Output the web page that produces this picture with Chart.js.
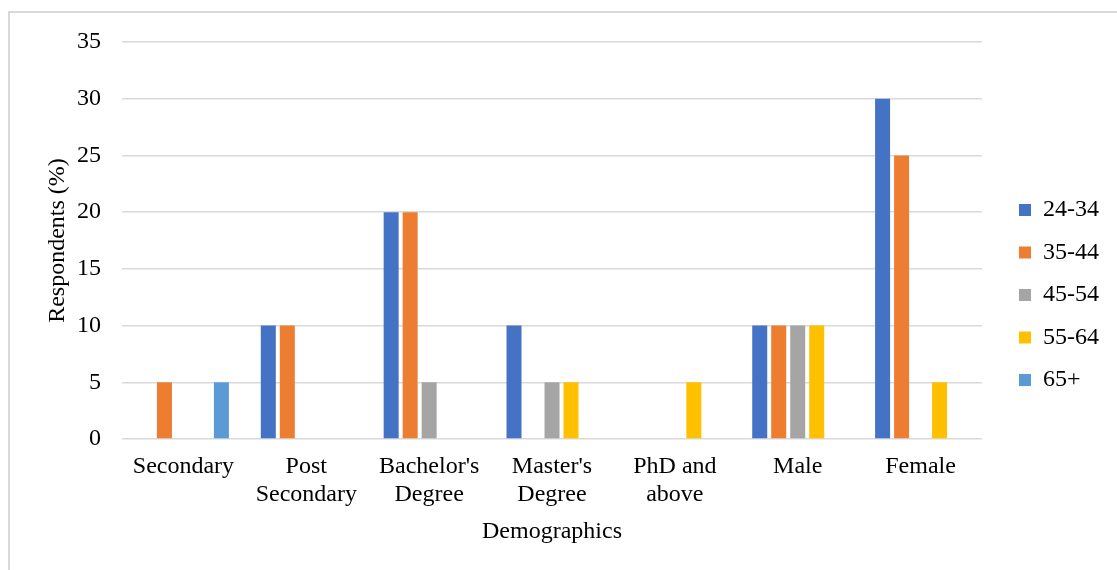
<!DOCTYPE html>
<html>
<head>
<meta charset="utf-8">
<script src="https://cdn.jsdelivr.net/npm/chart.js@4/dist/chart.umd.min.js"></script>
<style>
  html, body { margin: 0; padding: 0; background: #fff; overflow: hidden; }
  #frame {
    position: absolute; left: 8px; top: 11px;
    width: 1107px; height: 557px;
    border-left: 2px solid #d9d9d9; border-top: 2px solid #d9d9d9;
  }
  #frame canvas { display: block; }
</style>
</head>
<body>
<div id="frame"><canvas id="chart" width="1107" height="557"></canvas></div>
<script>
// Respondent share (%) by education level and gender, split into age groups
const categories = [
  "Secondary",
  ["Post", "Secondary"],
  ["Bachelor's", "Degree"],
  ["Master's", "Degree"],
  ["PhD and", "above"],
  "Male",
  "Female"
];
const ageGroups = ["24-34", "35-44", "45-54", "55-64", "65+"];
const age24to34 = [0, 10, 20, 10, 0, 10, 30];
const age35to44 = [5, 10, 20, 0, 0, 10, 25];
const age45to54 = [0, 0, 5, 5, 0, 10, 0];
const age55to64 = [0, 0, 0, 5, 5, 10, 5];
const age65plus = [5, 0, 0, 0, 0, 0, 0];
const yTicks = [0, 5, 10, 15, 20, 25, 30, 35];

const seriesValues = [age24to34, age35to44, age45to54, age55to64, age65plus];
const seriesColors = ["#4472C4", "#ED7D31", "#A5A5A5", "#FFC000", "#5B9BD5"];

const FONT = "'Liberation Serif', 'Times New Roman', 'DejaVu Serif', serif";
const INK = "#000000";
const GRID = "#d9d9d9";

new Chart(document.getElementById("chart"), {
  type: "bar",
  data: {
    labels: categories,
    datasets: ageGroups.map((name, i) => ({
      label: name,
      data: seriesValues[i],
      backgroundColor: seriesColors[i],
      borderWidth: 0,
      categoryPercentage: 0.773,
      barPercentage: 0.79
    }))
  },
  options: {
    responsive: false,
    animation: false,
    devicePixelRatio: 1,
    layout: { padding: { left: 20, right: 8, top: 29, bottom: 22 } },
    plugins: {
      tooltip: { enabled: false },
      legend: {
        position: "right",
        align: "center",
        labels: {
          boxWidth: 12,
          boxHeight: 12,
          padding: 18.5,
          color: INK,
          font: { family: FONT, size: 24 }
        }
      }
    },
    scales: {
      x: {
        offset: true,
        grid: { display: false, drawTicks: false },
        border: { display: false },
        ticks: {
          color: INK,
          padding: 14,
          maxRotation: 0,
          autoSkip: false,
          font: { family: FONT, size: 24, lineHeight: 1.15 }
        },
        title: {
          display: true,
          text: "Demographics",
          color: INK,
          padding: { top: 0, bottom: 2 },
          font: { family: FONT, size: 24 }
        },
        afterFit: (scale) => { scale.height = 109; }
      },
      y: {
        min: 0,
        max: 35,
        afterBuildTicks: (scale) => { scale.ticks = yTicks.map(v => ({ value: v })); },
        grid: { color: GRID, lineWidth: 1.5, drawTicks: false },
        border: { display: false },
        ticks: {
          color: INK,
          padding: 21,
          font: { family: FONT, size: 24 }
        },
        title: {
          display: true,
          text: "Respondents (%)",
          color: INK,
          padding: { top: 13.6, bottom: 0 },
          font: { family: FONT, size: 24 }
        },
        afterFit: (scale) => {
          scale.width = 92;
          // label room is already reserved by the layout padding
          scale.paddingTop = 0;
          scale.paddingBottom = 0;
        }
      },
      gap: {
        type: "linear",
        position: "right",
        display: true,
        grid: { display: false, drawTicks: false },
        border: { display: false },
        ticks: { display: false },
        afterFit: (scale) => { scale.width = 18.5; }
      }
    }
  }
});
</script>
</body>
</html>
